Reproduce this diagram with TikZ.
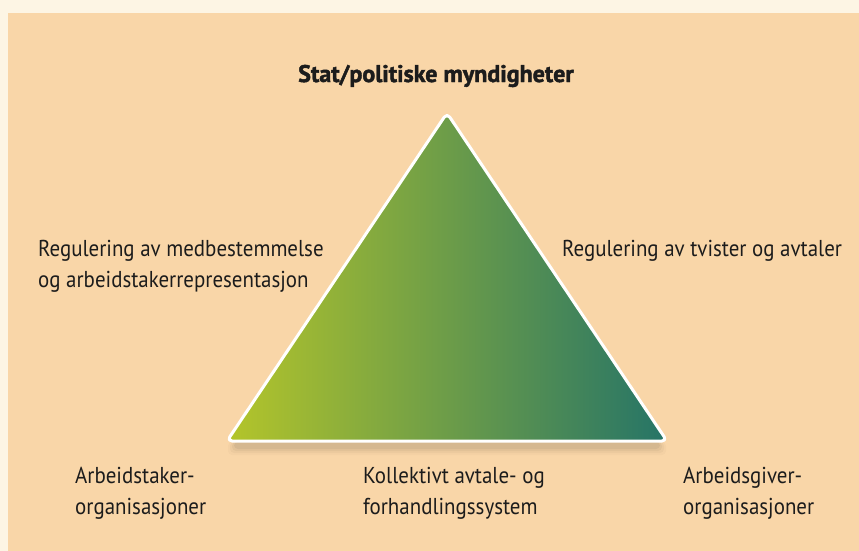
\documentclass[tikz,border=0pt]{standalone}
\usepackage{fontspec}
\setmainfont{PT Sans}[FakeStretch=0.91]
\newfontfamily\headfont{PT Sans}[FakeStretch=1.0, UprightFont=* Bold, FakeBold=1.8]
\definecolor{paper}{HTML}{FDF5E4}
\definecolor{peach}{HTML}{F9D6A8}
\definecolor{leafleft}{HTML}{B4C52A}
\definecolor{leafmid}{HTML}{7FA75C}
\definecolor{leafright}{HTML}{257467}
\definecolor{inktext}{HTML}{1C1C1C}
\tikzset{
  label/.style={font=\fontsize{23}{31}\selectfont, text=inktext, align=left, inner sep=0pt, anchor=base west},
  headlabel/.style={font=\headfont\fontsize{24}{28}\selectfont, text=inktext, inner sep=0pt, anchor=base},
}
\begin{document}
\begin{tikzpicture}[x=1pt,y=-1pt]
  % sheet and coloured panel
  \fill[paper] (0,0) rectangle (859,551);
  \useasboundingbox (0,0) rectangle (859,551);
  \fill[peach] (8,13) rectangle (859,551);

  % corners of the triangle
  \coordinate (apex) at (447,113);
  \coordinate (bl) at (227,441);
  \coordinate (br) at (667,441);

  % soft shadow under the base
  \foreach \d/\o in {2/0.05,4/0.04,6/0.03,8/0.02} {
    \fill[black, opacity=\o, rounded corners=4pt] (236-\d,442) rectangle (658+\d,447+\d);
  }

  % triangle with colour gradient and white rim
  \shade[left color=leafleft, middle color=leafmid, right color=leafright,
         draw=white, line width=3pt, rounded corners=5pt, line join=round]
    (apex) -- (br) -- (bl) -- cycle;

  % labels (two-line labels are placed by the baseline of their last line)
  \node[headlabel] (state) at (436,82) {Stat/politiske myndigheter};
  \node[label] (regleft) at (38,287) {Regulering av medbestemmelse\\og arbeidstakerrepresentasjon};
  \node[label] (regright) at (562,256) {Regulering av tvister og avtaler};
  \node[label] (employees) at (75,514) {Arbeidstaker-\\organisasjoner};
  \node[label] (collective) at (363,514) {Kollektivt avtale- og\\forhandlingssystem};
  \node[label] (employers) at (683,514) {Arbeidsgiver-\\organisasjoner};
\end{tikzpicture}
\end{document}
